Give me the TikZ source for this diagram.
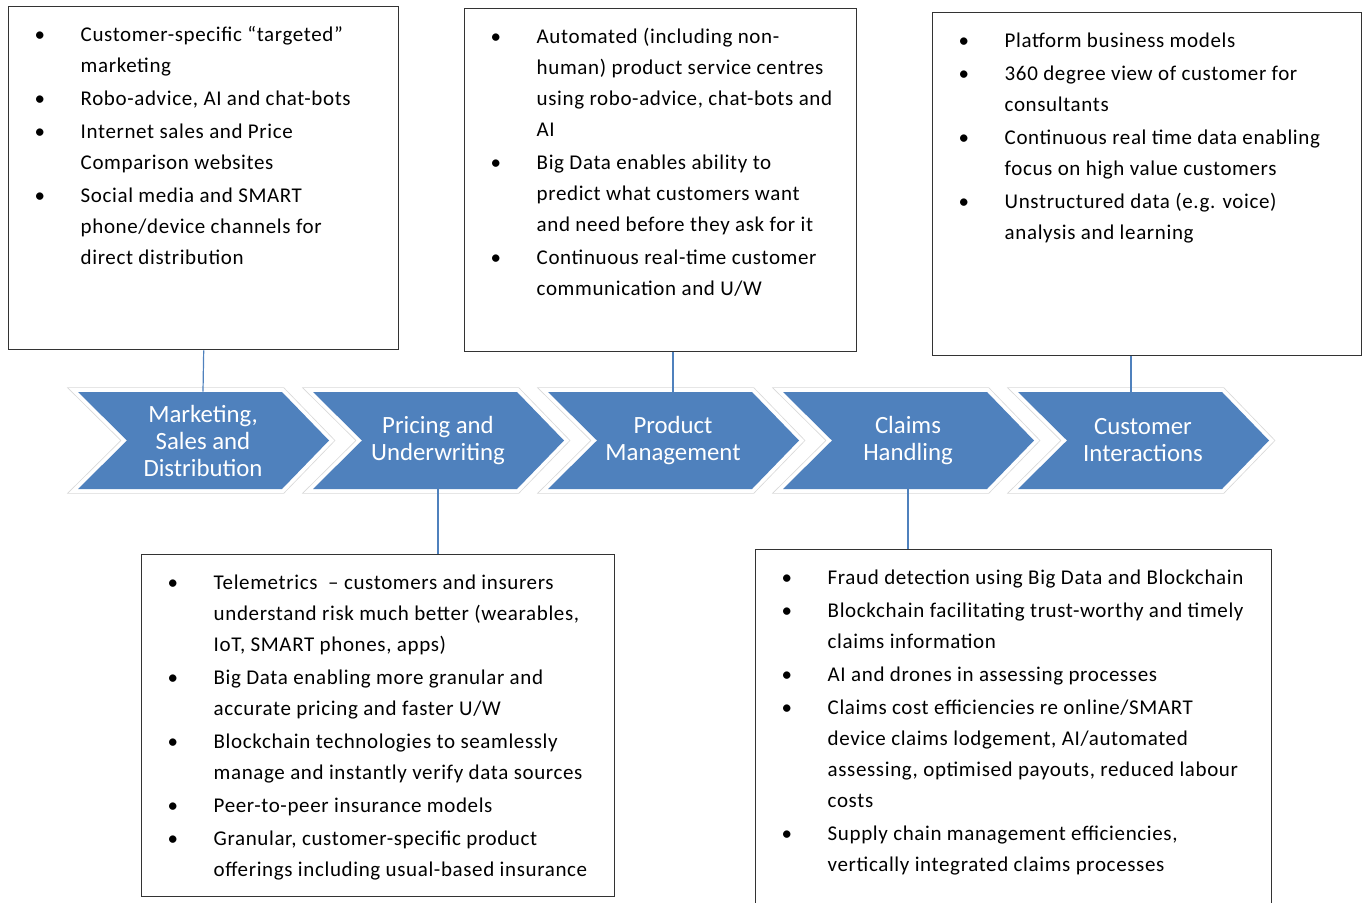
\documentclass[tikz,border=0pt]{standalone}
\usepackage{fontspec}
\setmainfont{Carlito}
\usepackage{tikz}
\usetikzlibrary{positioning}

\definecolor{chevblue}{HTML}{4F81BD}

% text block inside a frame: width, height, items
\newcommand{\boxtext}[3]{\parbox[c][#2][t]{#1}{\fontsize{10.5}{15.5}\selectfont
  \addfontfeatures{LetterSpace=3}%
  \raggedright\leftskip=13pt\setlength{\parskip}{1pt}\vspace*{5.4pt}#3}}
\newcommand{\bitem}{\par\hangindent=23pt\hangafter=1\noindent
  \makebox[23pt][l]{\strut\textbullet}}

\begin{document}
\begin{tikzpicture}
          [x=0.5pt, y=-0.5pt,
           box/.style={draw=black!80, line width=0.7pt, inner sep=0pt, anchor=north west},
           chev/.style={fill=chevblue,
             preaction={draw=gray!30, line width=4.6pt},
             preaction={draw=white, line width=3.8pt}},
           steptext/.style={text=white, align=center, minimum height=48.5pt,
             minimum width=90pt, inner sep=0pt, font=\fontsize{12.4}{13.5}\selectfont},
           link/.style={draw=chevblue, line width=0.6pt}]
          \useasboundingbox (0,0) rectangle (1368,903);

          % the value chain
          \foreach \xo/\nm/\txt in {78/mkt/{Marketing,\\Sales and\\Distribution},
                                    313/pric/{Pricing and\\Underwriting},
                                    548/prod/{Product\\Management},
                                    783/clm/{Claims\\Handling},
                                    1018/cust/{Customer\\Interactions}} {
            \path[chev] (\xo,392) -- ++(204,0) -- ++(47,48.5) -- ++(-47,48.5)
                        -- ++(-204,0) -- ++(49,-48.5) -- cycle;
            \node[steptext] (\nm) at (\xo+125,440.5) {\txt};
          }

          % top frames
          \node[box] (b1) at (8,6) {\boxtext{195pt}{171.5pt}{%
            \bitem Customer-specific “targeted”\newline marketing
            \bitem Robo-advice, AI and chat-bots
            \bitem Internet sales and Price\newline Comparison websites
            \bitem Social media and SMART\newline phone/device channels for\newline direct distribution}};
          \node[box] (b2) at (464,8) {\boxtext{196pt}{171.5pt}{%
            \bitem Automated (including non-\newline human) product service centres\newline using robo-advice, chat-bots and\newline AI
            \bitem Big Data enables ability to\newline predict what customers want\newline and need before they ask for it
            \bitem Continuous real-time customer\newline communication and U/W}};
          \node[box] (b3) at (932,12) {\boxtext{214.5pt}{171.5pt}{%
            \bitem Platform business models
            \bitem 360 degree view of customer for\newline consultants
            \bitem Continuous real time data enabling\newline focus on high value customers
            \bitem Unstructured data (e.g. voice)\newline analysis and learning}};

          % bottom frames
          \node[box] (b4) at (141,554) {\boxtext{236.5pt}{171pt}{%
            \bitem Telemetrics \ – customers and insurers\newline understand risk much better (wearables,\newline IoT, SMART phones, apps)
            \bitem Big Data enabling more granular and\newline accurate pricing and faster U/W
            \bitem Blockchain technologies to seamlessly\newline manage and instantly verify data sources
            \bitem Peer-to-peer insurance models
            \bitem Granular, customer-specific product\newline offerings including usual-based insurance}};
          \node[box] (b5) at (755,549) {\boxtext{258pt}{205pt}{%
            \bitem Fraud detection using Big Data and Blockchain
            \bitem Blockchain facilitating trust-worthy and timely\newline claims information
            \bitem AI and drones in assessing processes
            \bitem Claims cost efficiencies re online/SMART\newline device claims lodgement, AI/automated\newline assessing, optimised payouts, reduced labour\newline costs
            \bitem Supply chain management efficiencies,\newline vertically integrated claims processes}};

          \draw[link] (b1.south) -- (mkt.north);
          \draw[link] (prod.north |- b2.south) -- (prod.north);
          \draw[link] ([xshift=-6pt]cust.north |- b3.south) -- ([xshift=-6pt]cust.north);
          \draw[link] (pric.south) -- (pric.south |- b4.north);
          \draw[link] (clm.south) -- (clm.south |- b5.north);

        \end{tikzpicture}
\end{document}
